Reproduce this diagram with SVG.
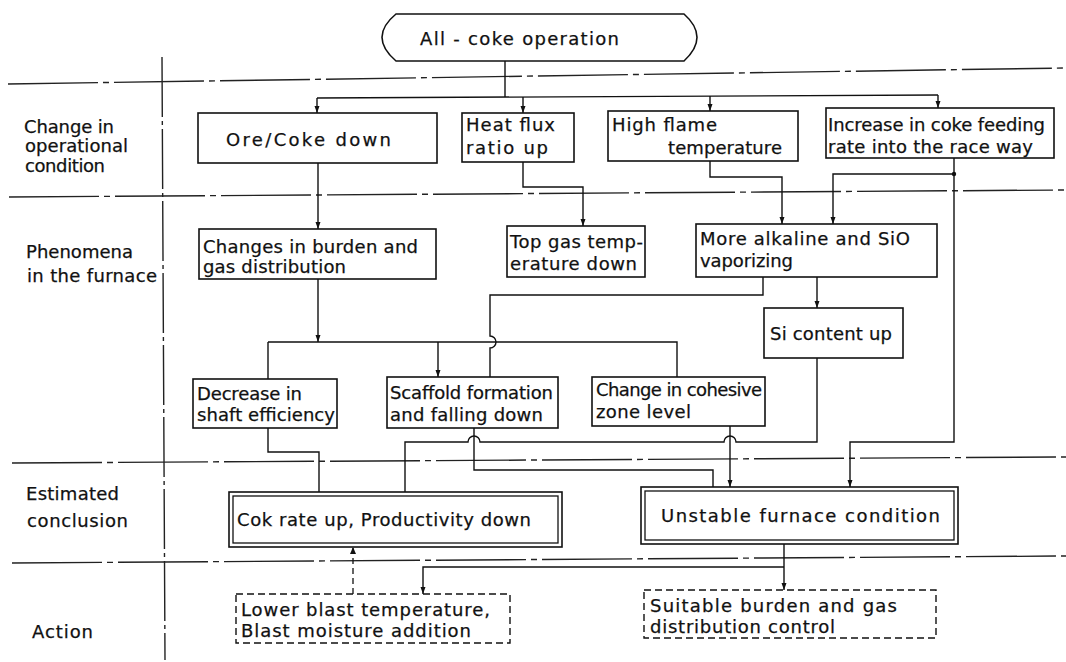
<svg xmlns="http://www.w3.org/2000/svg" width="1066" height="662" viewBox="0 0 1066 662">
<defs>
<marker id="arr" markerWidth="8" markerHeight="8" refX="7" refY="4" orient="auto" markerUnits="userSpaceOnUse">
<path d="M0,1.5 L7,4 L0,6.5 Z" fill="#111"/>
</marker>
</defs>
<style>
text{font-family:"DejaVu Sans","Liberation Sans",sans-serif;font-size:18px;fill:#111;stroke:#111;stroke-width:0.25}
.box{fill:#fff;stroke:#111;stroke-width:1.6}
.inner{fill:none;stroke:#111;stroke-width:1.3}
.dbox{fill:#fff;stroke:#111;stroke-width:1.4;stroke-dasharray:7 4}
.c{fill:none;stroke:#111;stroke-width:1.4}
.cd{fill:none;stroke:#111;stroke-width:1.3;stroke-dasharray:6 4}
.sep{fill:none;stroke:#222;stroke-width:1.4;stroke-dasharray:90 5 6 5}
.vsep{fill:none;stroke:#222;stroke-width:1.4;stroke-dasharray:60 4 4 4}
</style>
<rect width="1066" height="662" fill="#fff"/>
<g id="separators">
<path class="sep" d="M8,84 L1066,68"/>
<path class="sep" d="M9,197 L1066,190"/>
<path class="sep" d="M12,463 L1066,457"/>
<path class="sep" d="M12,563 L1066,556"/>
<path class="vsep" d="M162,57 L165,660"/>
</g>
<g id="row-labels">
<text x="24" y="133" textLength="90">Change in</text>
<text x="25" y="152" textLength="103">operational</text>
<text x="25" y="172" textLength="80">condition</text>
<text x="26" y="258" textLength="107">Phenomena</text>
<text x="27" y="282" textLength="130">in the furnace</text>
<text x="26" y="500" textLength="93">Estimated</text>
<text x="27" y="527" textLength="101">conclusion</text>
<text x="32" y="638" textLength="61">Action</text>
</g>
<g id="connectors">
<path class="c" d="M505,61 V97"/>
<path class="c" d="M317,98 L938,95"/>
<path class="c" d="M317,98 V113" marker-end="url(#arr)"/>
<path class="c" d="M523,97 V113" marker-end="url(#arr)"/>
<path class="c" d="M710,96 V111" marker-end="url(#arr)"/>
<path class="c" d="M938,95 V108" marker-end="url(#arr)"/>
<path class="c" d="M318,163 V229" marker-end="url(#arr)"/>
<path class="c" d="M523,162 V187 H583 V226" marker-end="url(#arr)"/>
<path class="c" d="M710,161 V177 H782 V224" marker-end="url(#arr)"/>
<path class="c" d="M954,158 V174 H833 V224" marker-end="url(#arr)"/>
<circle cx="954" cy="174" r="2.2" fill="#111"/>
<path class="c" d="M954,174 V442 H850 V487" marker-end="url(#arr)"/>
<path class="c" d="M817,277 V308" marker-end="url(#arr)"/>
<path class="c" d="M763,277 V295 H490 V336 A6,6 0 0 1 490,348 V377"/>
<path class="c" d="M318,279 V342" marker-end="url(#arr)"/>
<path class="c" d="M268,342 H677 V377"/>
<path class="c" d="M268,342 V379"/>
<path class="c" d="M438,342 V377" marker-end="url(#arr)"/>
<path class="c" d="M268,428 V452 H319 V492"/>
<path class="c" d="M474,428 V470 H713 V487"/>
<path class="c" d="M817,358 V442 H736 A6,6 0 0 0 724,442 H480 A6,6 0 0 0 468,442 H405 V492"/>
<path class="c" d="M730,426 V487" marker-end="url(#arr)"/>
<path class="cd" d="M353,594 V548"/>
<path d="M353,547 L350,554 L356,554 Z" fill="#111"/>
<path class="c" d="M784,544 V590" marker-end="url(#arr)"/>
<path class="c" d="M784,567 H423 V594" marker-end="url(#arr)"/>
</g>
<g id="n-allcoke">
<path class="box" d="M396,14 H684 Q710,37 684,61 H396 Q368,37 396,14 Z"/>
<text x="420" y="45" textLength="199">All - coke operation</text>
</g>
<g id="n-orecoke">
<rect class="box" x="198" y="113" width="239" height="50"/>
<text x="226" y="146" textLength="165">Ore/Coke down</text>
</g>
<g id="n-heatflux">
<rect class="box" x="462" y="113" width="112" height="49"/>
<text x="466" y="131" textLength="89">Heat flux</text>
<text x="466" y="154" textLength="82">ratio up</text>
</g>
<g id="n-highflame">
<rect class="box" x="608" y="111" width="190" height="50"/>
<text x="612" y="131" textLength="105">High flame</text>
<text x="668" y="154" textLength="114">temperature</text>
</g>
<g id="n-increase">
<rect class="box" x="826" y="108" width="228" height="50"/>
<text x="828" y="131" textLength="217">Increase in coke feeding</text>
<text x="828" y="153" textLength="205">rate into the race way</text>
</g>
<g id="n-changes">
<rect class="box" x="199" y="229" width="237" height="50"/>
<text x="203" y="253" textLength="215">Changes in burden and</text>
<text x="203" y="273" textLength="143">gas distribution</text>
</g>
<g id="n-topgas">
<rect class="box" x="507" y="226" width="138" height="51"/>
<text x="510" y="248" textLength="133">Top gas temp-</text>
<text x="510" y="270" textLength="127">erature down</text>
</g>
<g id="n-alkaline">
<rect class="box" x="696" y="224" width="241" height="53"/>
<text x="700" y="245" textLength="210">More alkaline and SiO</text>
<text x="700" y="267" textLength="93">vaporizing</text>
</g>
<g id="n-si">
<rect class="box" x="764" y="308" width="139" height="50"/>
<text x="770" y="340" textLength="122">Si content up</text>
</g>
<g id="n-decrease">
<rect class="box" x="193" y="379" width="144" height="49"/>
<text x="197" y="400" textLength="105">Decrease in</text>
<text x="197" y="421" textLength="138">shaft efficiency</text>
</g>
<g id="n-scaffold">
<rect class="box" x="387" y="377" width="171" height="51"/>
<text x="390" y="399" textLength="163">Scaffold formation</text>
<text x="390" y="421" textLength="153">and falling down</text>
</g>
<g id="n-cohesive">
<rect class="box" x="592" y="377" width="173" height="49"/>
<text x="596" y="396" textLength="166">Change in cohesive</text>
<text x="596" y="418" textLength="95">zone level</text>
</g>
<g id="n-cok">
<rect class="box" x="229" y="492" width="333" height="55"/>
<rect class="inner" x="233" y="496" width="325" height="47"/>
<text x="237" y="526" textLength="294">Cok rate up, Productivity down</text>
</g>
<g id="n-unstable">
<rect class="box" x="641" y="487" width="317" height="57"/>
<rect class="inner" x="645" y="491" width="309" height="49"/>
<text x="661" y="522" textLength="279">Unstable furnace condition</text>
</g>
<g id="n-lower">
<rect class="dbox" x="236" y="594" width="274" height="49"/>
<text x="241" y="616" textLength="249">Lower blast temperature,</text>
<text x="241" y="637" textLength="230">Blast moisture addition</text>
</g>
<g id="n-suitable">
<rect class="dbox" x="644" y="590" width="292" height="48"/>
<text x="650" y="612" textLength="247">Suitable burden and gas</text>
<text x="650" y="633" textLength="185">distribution control</text>
</g>
</svg>
